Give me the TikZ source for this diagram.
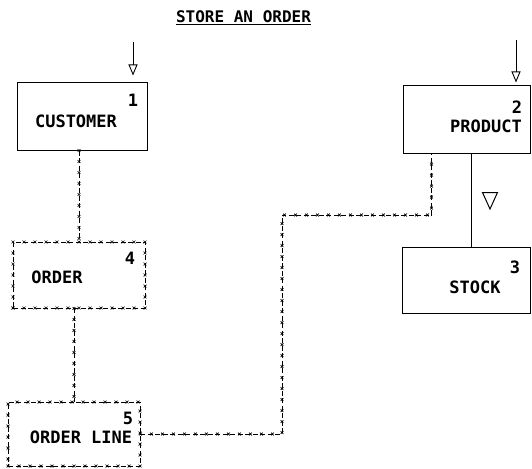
\documentclass[tikz,border=0pt]{standalone}
\usepackage{fontspec}
\setmonofont{DejaVu Sans Mono}
\usetikzlibrary{arrows.meta, decorations.markings}

\tikzset{
  box/.style={draw, line width=1pt, rectangle, inner sep=0pt},
  barbed/.style={line width=0.9pt, dash pattern=on 5pt off 2.5pt,
    postaction={decorate},
    decoration={markings, mark=between positions 0 and 1 step 11pt with
      {\draw[solid, line width=0.7pt] (-1.4pt,-1.4pt) -- (1.4pt,1.4pt)
        (-1.4pt,1.4pt) -- (1.4pt,-1.4pt);}}},
  lbl/.style={font=\ttfamily\bfseries\fontsize{17}{19}\selectfont, inner sep=0pt},
  num/.style={lbl},
  inarrow/.style={line width=0.9pt, -{Triangle[open, width=9pt, length=11pt]}},
}

\begin{document}
\begin{tikzpicture}[x=1pt, y=-1pt]
  \useasboundingbox (0,0) rectangle (532,468);
  % title
  \node[font=\ttfamily\bfseries\fontsize{16}{18}\selectfont, inner sep=0pt]
    (title) at (243.5,18) {\underline{STORE~AN~ORDER}};
  % entity boxes
  \node[box, minimum width=130pt, minimum height=67pt] (cust) at (82,116.5) {};
  \node[box, minimum width=127pt, minimum height=67pt] (prod) at (466.5,119.5) {};
  \node[box, minimum width=128pt, minimum height=66pt] (stock) at (466,280) {};
  \node[box, barbed, minimum width=132pt, minimum height=66pt] (order) at (79,275) {};
  \node[box, barbed, minimum width=132pt, minimum height=64pt] (ordline) at (74,434) {};
  % names and numbers
  \node[lbl] (custname) at (76,121) {CUSTOMER};
  \node[num] (custnum) at (133,100) {1};
  \node[lbl] (prodname) at (486,126) {PRODUCT};
  \node[num] (prodnum) at (517,107) {2};
  \node[lbl] (stockname) at (475,287) {STOCK};
  \node[num] (stocknum) at (515,267) {3};
  \node[lbl] (ordername) at (57,277) {ORDER};
  \node[num] (ordernum) at (130,258) {4};
  \node[lbl] (ordlinename) at (81,437) {ORDER LINE};
  \node[num] (ordlinenum) at (128,418) {5};
  % entry points
  \coordinate (custin) at (133,42);
  \coordinate (prodin) at (516,40);
  \draw[inarrow, shorten >=7pt] (custin) -- (custin |- cust.north);
  \draw[inarrow, shorten >=3pt] (prodin) -- (prodin |- prod.north);
  % access paths
  \draw[barbed] (order.north |- cust.south) -- (order.north);
  \draw[barbed] (ordline.north |- order.south) -- (ordline.north);
  \coordinate (jog) at (282,215);
  \draw[barbed] (ordline.east) -| (jog) -| ([xshift=29pt]prod.south west);
  \draw[line width=1pt] ([xshift=4.5pt]prod.south) -- ([xshift=4.5pt]prod.south |- stock.north);
  \draw[line width=1pt] (482.5,192.5) -- (497.5,192.5) -- (490,209) -- cycle;
\end{tikzpicture}
\end{document}
